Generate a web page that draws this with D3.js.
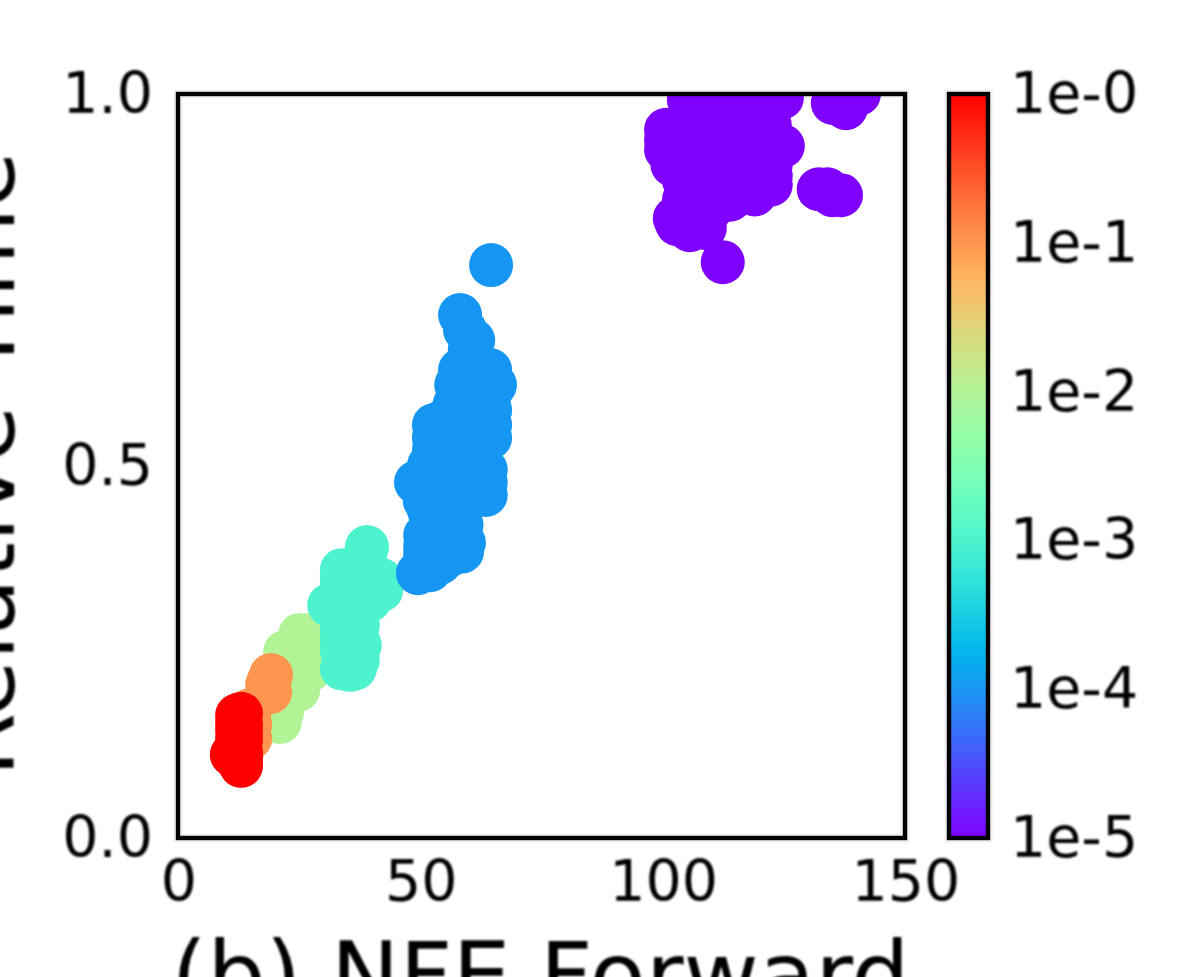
<!DOCTYPE html>
<html>
<head>
<meta charset="utf-8">
<script src="https://cdn.jsdelivr.net/npm/d3@7"></script>
<style>
html,body{margin:0;padding:0;background:#fff;overflow:hidden}
svg{display:block}
text{font-family:"DejaVu Sans",sans-serif;fill:#000}
</style>
</head>
<body>
<svg id="chart" width="1196" height="977"></svg>
<script>
// ---- data (NFE Forward, Relative Time) per tolerance
const purpleX=[105.4,111.8,118.0,124.6,100.7,100.7,107.7,113.9,120.1,124.8,107.7,113.9,104.4,122.3,117.0,113.9,109.8,102.5,105.6,108.7,112.4,132.2,136.8,135.1,140.5,120.1,108.7,114.9,104.4,104.4,109.8,105.6,122.3,118.0,110.8,115.9,105.6,111.8,118.0,122.1,114.9,121.1,105.6,134.5,137.8,100.7,122.3,119.0,134.0,135.0,102.0,103.0];
const purpleY=[.992,.992,.992,.995,.952,.925,.952,.952,.952,.930,.898,.898,.884,.878,.871,.858,.844,.833,.817,.820,.774,.872,.864,.988,1.0,.911,.925,.925,.925,.858,.871,.851,.905,.898,.851,.878,.965,.965,.965,.958,.992,.992,.906,.868,.981,.938,.890,.865,.872,.864,.905,.825];
const blueX=[64.6,58.2,60.9,58.2,64.4,57.4,65.4,52.8,61.3,64.4,64.4,58.2,52.8,51.8,49.1,58.2,63.5,63.5,56.1,52.0,51.0,59.0,54.1,56.1,49.5,60.2,61.3,61.3,55.1,54.1,60.2,56.1,54.1,52.0,61.3,56.1,51.0,52.0,58.5,50.9,64.4,57.1,59.2,64.4,63.5,52.8,51.8,51.8,51.0,58.6,60.0];
const blueY=[.770,.703,.669,.629,.629,.609,.609,.555,.589,.575,.538,.548,.522,.501,.478,.495,.495,.461,.454,.448,.407,.397,.370,.380,.356,.656,.622,.562,.562,.495,.522,.522,.427,.481,.461,.421,.380,.360,.421,.454,.597,.583,.683,.555,.478,.538,.470,.440,.392,.385,.640];
const tealX=[39.0,33.8,41.9,38.6,31.2,35.5,34.5,37.1,35.5,33.8,37.5,35.5,39.6,33.4,33.8,37.1,37.1,34.5,35.5,37.5,33.8,33.8,36.5,33.8,33.8,38.6,41.9];
const tealY=[.391,.347,.347,.333,.313,.306,.280,.266,.246,.228,.360,.333,.320,.306,.266,.286,.239,.253,.226,.259,.253,.280,.228,.360,.333,.380,.333];
const greenX=[25.2,22.1,24.8,21.7,21.0,25.2,22.1,24.8,27.2,28.9,27.2,21.5,23.0];
const greenY=[.273,.250,.226,.185,.156,.253,.226,.199,.273,.253,.226,.170,.212];
const orangeX=[19.2,18.4,19.0,14.9,14.9,13.8,14.9,18.8];
const orangeY=[.219,.206,.196,.172,.134,.125,.152,.212];
const redX=[13.0,12.2,11.1,13.0,12.4,12.4,13.0,13.0,12.2,12.2,12.2,12.2,13.0,13.0,13.0,12.2];
const redY=[.167,.145,.112,.097,.132,.125,.132,.152,.165,.105,.155,.120,.115,.142,.105,.135];

const seriesNames=["1e-2","1e-3","1e-4","1e-1","1e-0","1e-5"];
const seriesColors=["#b2f396","#4df3ce","#1996f3","#ff964f","#ff0000","#8000ff"];
const seriesX=[greenX,tealX,blueX,orangeX,redX,purpleX];
const seriesY=[greenY,tealY,blueY,orangeY,redY,purpleY];

const xTicks=[0,50,100,150];
const yTicks=[0,0.5,1];
const cbTicks=[1,1e-1,1e-2,1e-3,1e-4,1e-5];
const cbLabels=["1e-0","1e-1","1e-2","1e-3","1e-4","1e-5"];
const xTitle="(b) NFE Forward";
const yTitle="Relative Time";

// ---- layout
const L=178,R=905,T=94,B=838,CL=949,CR=988,rad=22;
const svg=d3.select("#chart");
const x=d3.scaleLinear().domain([0,150]).range([L,R]);
const y=d3.scaleLinear().domain([0,1]).range([B,T]);
const c=d3.scaleLog().domain([1e-5,1]).range([B,T]);

const defs=svg.append("defs");
defs.append("clipPath").attr("id","plot").append("rect")
  .attr("x",L).attr("y",T).attr("width",R-L).attr("height",B-T);
const f=defs.append("filter").attr("id","soft").attr("x","-10%").attr("y","-10%").attr("width","120%").attr("height","120%");
f.append("feGaussianBlur").attr("stdDeviation",0.9);
const f2=defs.append("filter").attr("id","softer").attr("x","-10%").attr("y","-10%").attr("width","120%").attr("height","120%");
f2.append("feGaussianBlur").attr("stdDeviation",0.45);

// matplotlib "rainbow" colormap
const rainbow=t=>d3.rgb(255*Math.min(1,Math.abs(2*t-.5)),255*Math.sin(Math.PI*t),255*Math.cos(Math.PI*t/2)).formatHex();
const grad=defs.append("linearGradient").attr("id","rb").attr("x1",0).attr("x2",0).attr("y1",1).attr("y2",0);
d3.range(0,1.0001,0.02).forEach(t=>grad.append("stop").attr("offset",t).attr("stop-color",rainbow(t)));

const frames=[[L,T,R-L,B-T],[CL,T,CR-CL,B-T]];
// halo under the frames
frames.forEach(([a,b,w,h])=>{
  svg.append("rect").attr("x",a).attr("y",b).attr("width",w).attr("height",h)
    .attr("fill","none").attr("stroke","#efefef").attr("stroke-width",9);
});

// points
const gp=svg.append("g").attr("clip-path","url(#plot)").attr("filter","url(#softer)");
seriesNames.forEach((n,i)=>{
  gp.append("g").attr("class","s-"+n).attr("fill",seriesColors[i])
    .selectAll("circle").data(d3.range(seriesX[i].length)).join("circle")
    .attr("cx",k=>x(seriesX[i][k])).attr("cy",k=>y(seriesY[i][k])).attr("r",rad);
});

// colorbar
svg.append("rect").attr("x",CL).attr("y",T).attr("width",CR-CL).attr("height",B-T).attr("fill","url(#rb)");

// frames
frames.forEach(([a,b,w,h])=>{
  svg.append("rect").attr("x",a).attr("y",b).attr("width",w).attr("height",h)
    .attr("fill","none").attr("stroke","#000").attr("stroke-width",4.4);
});

// text
const gt=svg.append("g").attr("filter","url(#soft)");
const FS=57, TFS=92;
gt.selectAll(".xt").data(xTicks).join("text").attr("class","xt")
  .attr("x",d=>x(d)+1).attr("y",901).attr("text-anchor","middle").attr("font-size",FS).text(d=>d);
gt.selectAll(".yt").data(yTicks).join("text").attr("class","yt")
  .attr("x",153).attr("y",d=>y(d)+19).attr("text-anchor","end").attr("font-size",FS).text(d=>d3.format(".1f")(d));
gt.selectAll(".ct").data(cbTicks).join("text").attr("class","ct")
  .attr("x",1010).attr("y",d=>c(d)+19).attr("font-size",FS).text((d,i)=>cbLabels[i]);
gt.append("text").attr("x",(L+R)/2-1).attr("y",1008).attr("text-anchor","middle").attr("font-size",TFS).text(xTitle);
gt.append("text").attr("transform","translate(14,464) rotate(-90)").attr("text-anchor","middle").attr("font-size",TFS).text(yTitle);
</script>
</body>
</html>
